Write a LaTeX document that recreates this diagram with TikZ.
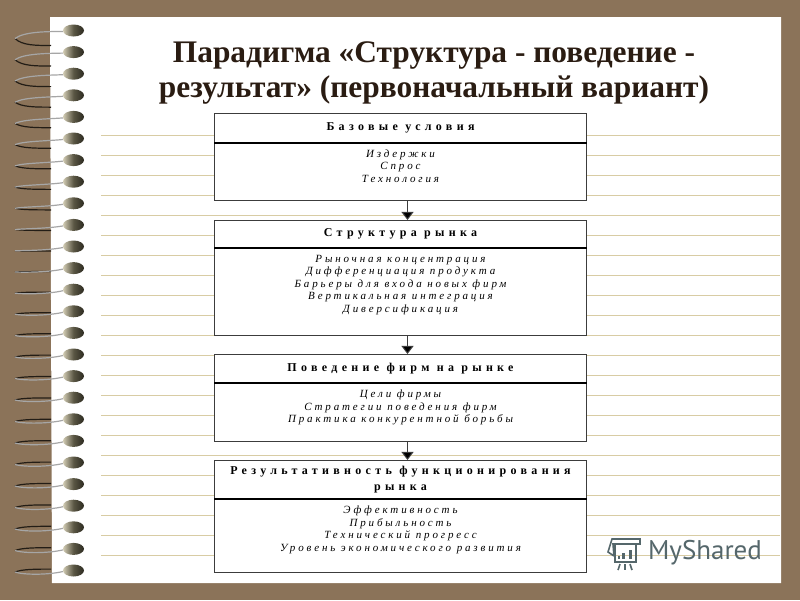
\documentclass[tikz,border=0pt]{standalone}
\usepackage{fontspec}
\setmainfont{Liberation Serif}
\newfontfamily\logofont{PT Sans}
\usetikzlibrary{arrows.meta}
\definecolor{cover}{HTML}{8B7359}
\definecolor{rule}{HTML}{D8CCA4}
\definecolor{frame}{HTML}{3C3C3C}
\definecolor{ink}{HTML}{2A1C12}
\definecolor{logo}{HTML}{55676B}
\definecolor{eyelight}{HTML}{D2CCB4}
\definecolor{eyemid}{HTML}{5A5644}
\definecolor{eyedark}{HTML}{2C2A20}
\tikzset{
    headbox/.style={draw=frame, fill=white, line width=1, inner xsep=0, inner ysep=0,
        minimum width=372, minimum height=#1, align=center,
        font=\fontsize{12}{15.5}\selectfont\bfseries\addfontfeature{LetterSpace=36}},
    bodybox/.style={draw=frame, fill=white, line width=1, inner xsep=0, inner ysep=6.5,
        minimum width=372, anchor=north, align=center, text depth=#1,
        font=\fontsize{11}{12.5}\selectfont\itshape\addfontfeature{LetterSpace=26}},
    divider/.style={line width=2, black},
    flow/.style={frame, line width=1, -{Triangle[length=8, width=12, fill=black]}}
}
\begin{document}
\begin{tikzpicture}[x=1pt, y=-1pt]

                % Cover and sheet
                \useasboundingbox (0, 0) rectangle (800, 600);
                \fill[cover] (0, 0) rectangle (800, 600);
                \fill[white] (50, 17) -- (781, 17) -- (781, 583) -- (52, 583) -- cycle;

                % Ruled lines of the sheet
                \begin{scope}[rule, line width=1]
                    \foreach \y in {135, 155, ..., 555}
                        \draw (101, \y) -- (780, \y);
                \end{scope}

                % Spiral binding, the loops flatten on the way down
                \foreach \i in {0, ..., 25} {
                    \pgfmathsetmacro{\back}{max(15 - 1.05*\i, 1 - 0.2*(\i - 13))}
                    \pgfmathsetmacro{\wire}{min(1 + 0.3*\i, 4.5)}
                    \pgfmathsetmacro{\tip}{0.5*(\back + \wire)}
                    \begin{scope}[shift={(0, 30.5 + 21.6*\i)}]
                        \draw[black!75!cover, line width=1.2] (15, \tip) .. controls (22, \back) and (36, \back) .. (51, \back);
                        \draw[gray!70, line width=1.2] (63, 1) .. controls (48, \wire) and (24, \wire) .. (15, \tip);
                        \shade[left color=eyelight, right color=eyedark, middle color=eyemid]
                            (73.5, 0) ellipse [x radius=10.5, y radius=6];
                    \end{scope}
                }

                \node (title) at (434, 72.5) [text=ink, align=center,
                    font=\fontsize{31.4}{35}\selectfont\bfseries] {Парадигма «Структура - поведение -\\результат» (первоначальный вариант)};

                % Each block is a heading with its list below
                \begin{scope}
                    \node (basic) at (400.5, 128) [headbox=29] {Базовые условия};
                    \node (basiclist) at (400.5, 142.5) [bodybox=11.9] {Издержки\\Спрос\\Технология};

                    \node (market) at (400.5, 234.2) [headbox=27.5] {Структура рынка};
                    \node (marketlist) at (400.5, 248) [bodybox=16.4] {Рыночная концентрация\\Дифференциация продукта\\Барьеры для входа новых фирм\\Вертикальная интеграция\\Диверсификация};

                    \node (conduct) at (400.5, 368.7) [headbox=28.5] {Поведение фирм на рынке};
                    \node (conductlist) at (400.5, 383) [bodybox=12.4] {Цели фирмы\\Стратегии поведения фирм\\Практика конкурентной борьбы};

                    \node (result) at (400.5, 479.7) [headbox=38.5] {Результативность функционирования\\рынка};
                    \node (resultlist) at (400.5, 499) [bodybox=14.9] {Эффективность\\Прибыльность\\Технический прогресс\\Уровень экономического развития};
                \end{scope}

                \begin{scope}
                    \draw[divider] (basic.south west) -- (basic.south east);
                    \draw[divider] (market.south west) -- (market.south east);
                    \draw[divider] (conduct.south west) -- (conduct.south east);
                    \draw[divider] (result.south west) -- (result.south east);
                \end{scope}

                % The arrows stand a little right of the middle
                \begin{scope}
                    \draw[flow] ([xshift=7]basiclist.south) -- ([xshift=7]market.north);
                    \draw[flow] ([xshift=7]marketlist.south) -- ([xshift=7]conduct.north);
                    \draw[flow] ([xshift=7]conductlist.south) -- ([xshift=7]result.north);
                \end{scope}

                % Logo in the corner
                \begin{scope}[logo, line width=1.6]
                    \draw (614, 556) -- (608, 552) -- (612, 539) -- (640, 539) -- (640, 544) -- (613, 544) -- (614, 556);
                    \draw (615, 544) -- (615, 562) -- (636, 562) -- (636, 544);
                    \fill (618, 556) rectangle (620, 559);
                    \fill (622, 553) rectangle (625, 559);
                    \fill (629, 550) rectangle (632, 559);
                    \draw (620, 564) -- (618, 570);
                    \draw (625, 564) -- (625, 570);
                    \draw (630, 564) -- (632, 570);
                \end{scope}
                \node (brand) at (705, 553) [text=logo, font=\fontsize{27}{27}\selectfont\logofont] {MyShared};

\end{tikzpicture}
\end{document}
